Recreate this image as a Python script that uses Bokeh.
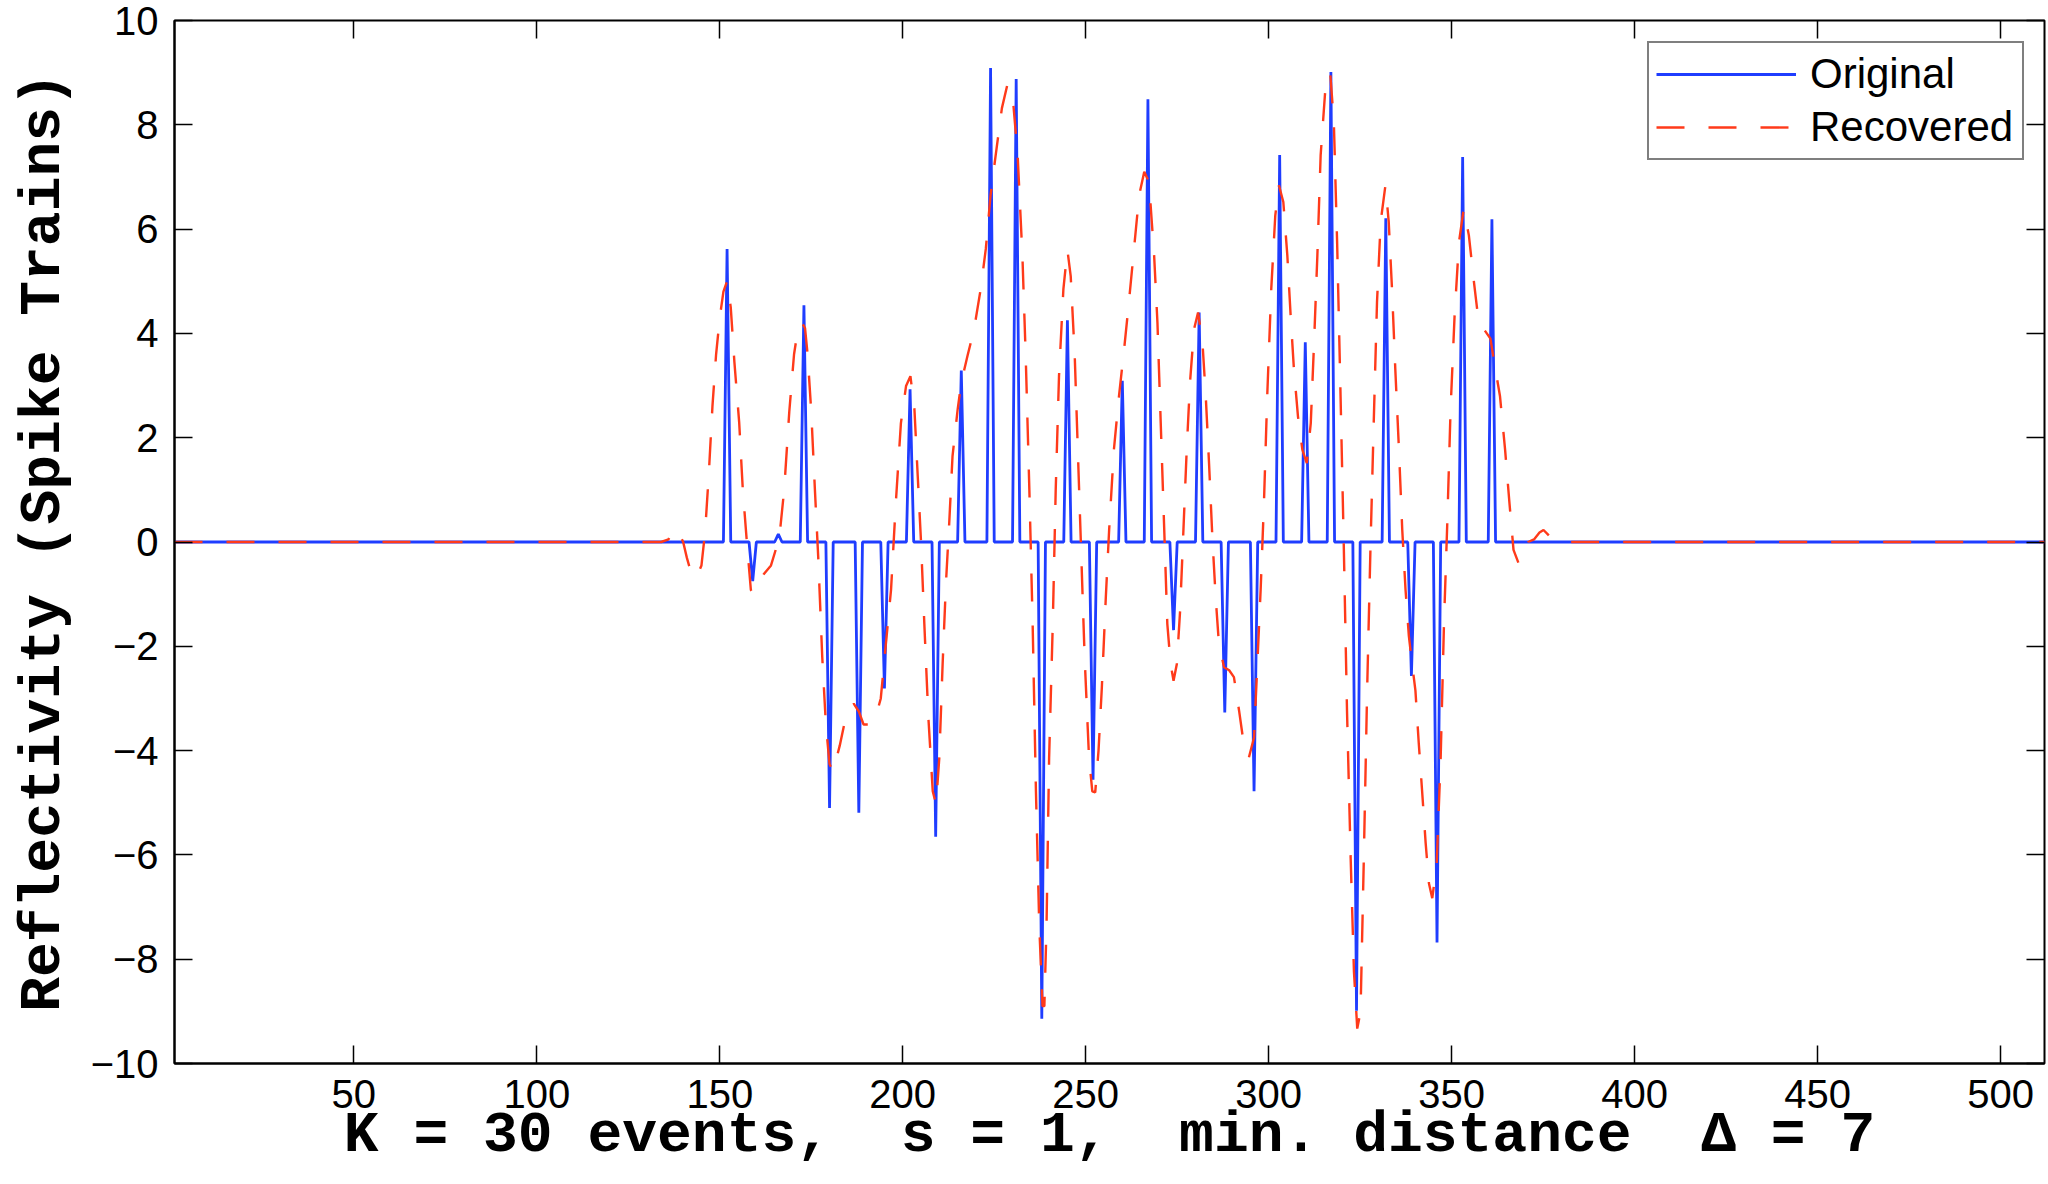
import numpy as np
from bokeh.plotting import figure
from bokeh.models import (Range1d, LinearAxis, FixedTicker, CustomJSTickFormatter, Legend)
from bokeh.embed import file_html
from bokeh.resources import INLINE

# ---------------- data ----------------
N = 512
spike_pos = [152, 159, 166, 173, 180, 188, 195, 202, 209, 216, 224, 231, 238, 245, 252,
             260, 267, 274, 281, 288, 296, 303, 310, 317, 324, 332, 339, 346, 353, 361]
spike_amp = [5.62, -0.75, 0.15, 4.54, -5.10, -5.19, -2.81, 2.93, -5.65, 3.29, 9.09, 8.88,
             -9.14, 4.25, -4.56, 3.09, 8.49, -1.69, 4.40, -3.27, -4.78, 7.42, 3.83, 9.01,
             -8.99, 6.21, -2.57, -7.68, 7.38, 6.19]

rec_x = [1, 134, 136, 137, 138, 139, 140, 141, 142, 143.5, 145, 146, 147, 148, 149, 150, 151, 152,
         153, 154, 155.3, 156.3, 157.4, 158.5, 159, 160.5, 162, 164, 165.5, 166.3, 167.6, 169,
         170.3, 171.5, 172.5, 173.3, 174, 175, 176, 176.9, 178, 179, 180, 181, 182.8, 184.3,
         186.6, 188, 189.3, 191.3, 192.6, 194, 195.4, 196.8, 198.1, 199.5, 200.9, 202.1, 203.2,
         204.1, 205, 205.9, 207, 208.2, 209.1, 210, 210.9, 211.8, 212.7, 213.6, 215, 216, 217.7,
         219.5, 221.3, 222.7, 224, 225.4, 227.1, 228.6, 230, 231.4, 232.7, 233.6, 234.6, 235.5,
         236.4, 237.3, 238.2, 238.7, 239.3, 240, 241, 241.8, 242.7, 243.9, 245, 245.9, 247,
         247.9, 248.8, 249.7, 250.9, 251.8, 252.6, 253.5, 254.4, 255.5, 256.4, 257.7, 259.1,
         260.5, 261.8, 263.2, 264.6, 266, 267.3, 268.7, 269.6, 270.5, 271.4, 272.3, 273.2, 274,
         274.9, 275.8, 276.7, 277.6, 278.5, 279.6, 280.7, 281.9, 282.8, 283.7, 284.6, 285.5,
         286.4, 287.8, 289.2, 290.5, 291.9, 293.2, 294.6, 296, 296.9, 297.8, 298.7, 299.6, 300.7,
         301.8, 302.8, 304, 305.1, 306, 306.9, 308, 309.2, 310.4, 311.5, 312.4, 313.3, 314.2,
         315.5, 316.8, 317.8, 318.7, 319.6, 320.5, 321.4, 322.4, 323.3, 324.2, 325.1, 326, 326.9,
         327.8, 328.7, 329.6, 330.6, 331.9, 332.8, 333.7, 334.6, 335.6, 336.5, 337.4, 338.3,
         339.2, 340.1, 341, 341.9, 342.9, 343.8, 344.7, 345.9, 347, 347.9, 348.8, 349.7, 350.8,
         352, 353.3, 354.7, 356.1, 357.4, 358.8, 360.6, 361.5, 363.2, 364.6, 365.8, 366.9, 368.3,
         369.6, 370.9, 372.5, 374, 375.1, 376.9, 378.8, 380.6, 512]
rec_y = [0, 0, 0.05, 0.22, 0.25, 0.15, 0.0, -0.3, -0.55, -0.69, -0.45, 0.2, 1.3, 2.6, 3.6, 4.3, 4.8, 5.0,
         4.5, 3.45, 2.3, 1.0, 0.0, -0.92, -0.98, -0.8, -0.62, -0.45, -0.1, 0.1, 1.0, 2.5,
         3.6, 4.15, 4.2, 4.1, 3.6, 2.5, 1.0, -0.28, -2.2, -3.5, -4.26, -4.4, -3.9, -3.4,
         -3.1, -3.25, -3.5, -3.5, -3.36, -3.0, -1.95, -0.92, 0.74, 2.28, 2.99, 3.18, 2.54,
         1.26, 0.0, -1.57, -3.36, -4.78, -5.03, -4.13, -2.34, -0.8, 0.36, 1.64, 2.54, 3.06, 3.57,
         4.08, 4.85, 5.62, 6.65, 7.42, 8.32, 8.77, 8.58, 7.42, 5.49, 3.57, 1.0, -1.57,
         -4.78, -7.34, -8.9, -8.9, -7.34, -4.13, -1.57, 1.0, 3.18, 4.85, 5.6, 5.1, 3.57,
         1.64, -0.28, -2.2, -4.13, -4.78, -4.8, -4.0, -2.8, -1.05, 0.23, 1.77, 2.8,
         3.7, 4.6, 5.62, 6.65, 7.1, 6.9, 5.49, 4.21, 2.28, 0.36, -1.57, -2.34, -2.66,
         -2.34, -1.31, 0.23, 1.77, 3.06, 4.08, 4.4, 3.83, 2.8, 1.51, 0.1, -1.05,
         -1.95, -2.4, -2.46, -2.59, -3.23, -3.88, -4.13, -3.75, -2.34, -0.92, 0.74, 2.8, 4.85,
         6.26, 6.84, 6.52, 5.49, 4.34, 3.31, 2.41, 1.77, 1.51, 2.28, 3.83, 5.49, 7.42,
         8.7, 9.0, 8.06, 5.75, 2.93, 0.0, -3.23, -6.06, -8.24, -9.33, -9.01, -6.06, -2.85,
         -0.15, 2.28, 4.6, 6.14, 6.84, 6.14, 4.85, 3.31, 1.77, 0.23, -0.92, -1.8,
         -2.34, -2.85, -3.85, -4.75, -5.78, -6.55, -6.83, -6.19, -4.13, -1.57, 0.36, 2.54, 4.34,
         5.75, 6.39, 5.88, 4.98, 4.21, 4.08, 3.9, 3.5, 2.8, 1.77, 0.74, -0.15, -0.41,
         -0.28, 0.0, 0.05, 0.18, 0.23, 0.1, 0.03, 0.0, 0]

x_ticks = [50, 100, 150, 200, 250, 300, 350, 400, 450, 500]
y_ticks = [-10, -8, -6, -4, -2, 0, 2, 4, 6, 8, 10]
series_names = ["Original", "Recovered"]
x_label = "K = 30 events,\u00a0 s = 1,\u00a0 min. distance\u00a0 \u0394 = 7"
y_label = "Reflectivity (Spike Trains)"

# original spike train
orig_x = np.arange(1, N + 1)
orig_y = np.zeros(N)
for pos, amp in zip(spike_pos, spike_amp):
    orig_y[pos - 1] = amp

BLUE = "#1f3dff"
RED = "#ff3a1a"
TICK_FONT = "Liberation Sans"
LABEL_FONT = "Liberation Mono"

p = figure(width=2048, height=1184, output_backend="svg", toolbar_location=None,
           x_range=Range1d(1, 512), y_range=Range1d(-10, 10),
           min_border_left=174, min_border_right=4, min_border_top=20, min_border_bottom=121)
p.xgrid.visible = False
p.ygrid.visible = False
p.outline_line_color = "black"
p.outline_line_width = 2
p.background_fill_color = "white"
p.border_fill_color = "white"

minus_fmt = CustomJSTickFormatter(code="return tick < 0 ? '\\u2212' + (-tick) : '' + tick;")
blank_fmt = CustomJSTickFormatter(code="return '';")

for ax in (p.xaxis[0], p.yaxis[0]):
    ax.major_tick_in = 18
    ax.major_tick_out = 0
    ax.minor_tick_line_color = None
    ax.axis_line_width = 2
    ax.major_tick_line_width = 1.5
    ax.major_label_text_font = TICK_FONT
    ax.major_label_text_font_size = "40px"
    ax.major_label_text_color = "black"
    ax.axis_label_text_font = LABEL_FONT
    ax.axis_label_text_font_style = "bold"
    ax.axis_label_text_font_size = "58px"
    ax.axis_label_text_color = "black"

p.xaxis[0].ticker = FixedTicker(ticks=x_ticks)
p.yaxis[0].ticker = FixedTicker(ticks=y_ticks)
p.yaxis[0].formatter = minus_fmt
p.xaxis[0].major_label_standoff = 16
p.yaxis[0].major_label_standoff = 16
p.xaxis[0].axis_label = x_label
p.yaxis[0].axis_label = y_label
p.xaxis[0].axis_label_standoff = -8
p.yaxis[0].axis_label_standoff = 12

# mirrored ticks on top and right
top_ax = LinearAxis(ticker=FixedTicker(ticks=x_ticks), formatter=blank_fmt,
                    major_label_text_font_size="0px",
                    major_tick_in=18, major_tick_out=0, axis_line_color=None,
                    minor_tick_line_color=None, major_label_standoff=0, major_tick_line_width=1.5)
right_ax = LinearAxis(ticker=FixedTicker(ticks=y_ticks), formatter=blank_fmt,
                      major_label_text_font_size="0px",
                      major_tick_in=18, major_tick_out=0, axis_line_color=None,
                      minor_tick_line_color=None, major_label_standoff=0, major_tick_line_width=1.5)
p.add_layout(top_ax, "above")
p.add_layout(right_ax, "right")

r1 = p.line(orig_x, orig_y, line_color=BLUE, line_width=2.8)
r2 = p.line(rec_x, rec_y, line_color=RED, line_width=2.4, line_dash="28 24")

legend = Legend(items=[(series_names[0], [r1]), (series_names[1], [r2])], location=(1473, 903),
                label_text_font=TICK_FONT, label_text_font_size="42px", label_text_color="black",
                glyph_width=140, glyph_height=38, label_height=38, label_standoff=14,
                label_width=205, spacing=5, padding=7, margin=0,
                border_line_color="black", border_line_width=2, background_fill_alpha=1)
p.add_layout(legend)

open("out.html", "w").write(file_html(p, INLINE))
